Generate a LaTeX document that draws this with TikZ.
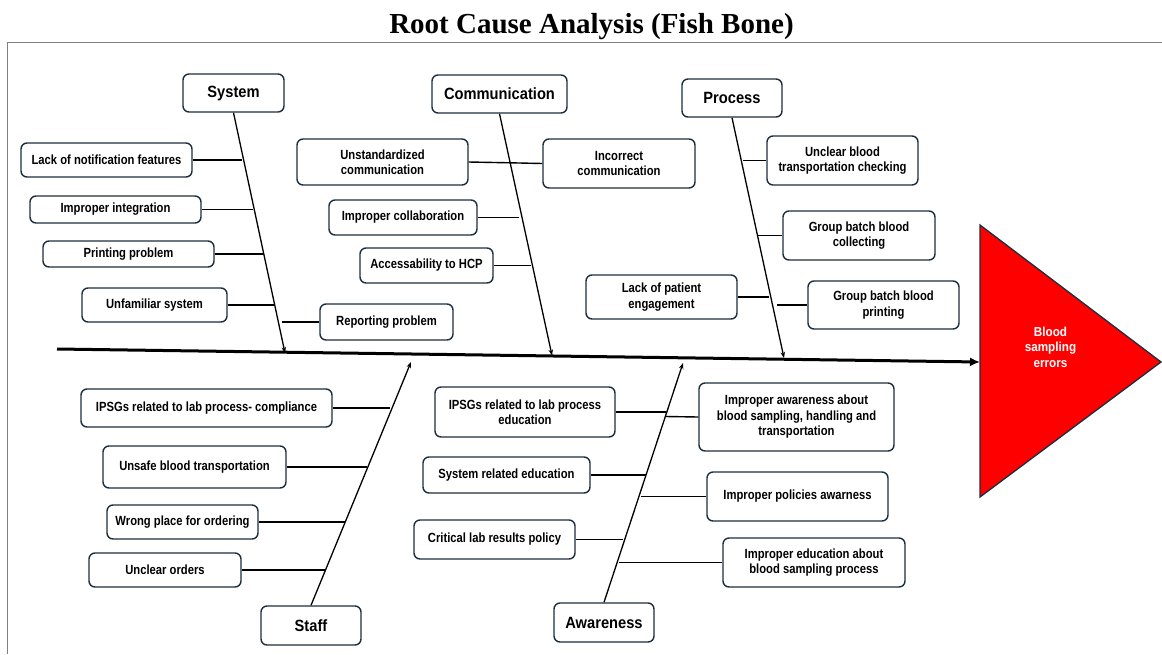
\documentclass[tikz,border=0pt]{standalone}
\usepackage{fontspec}
\setmainfont{Liberation Sans}[FakeStretch=0.9]
\newfontfamily\subfont{Liberation Sans}[FakeStretch=0.845]
\newfontfamily\titlefont{Liberation Serif}
\usetikzlibrary{arrows.meta,calc}
\definecolor{boxline}{HTML}{1C2E3D}
\definecolor{errred}{HTML}{FF0000}
\definecolor{framegray}{HTML}{7F7F7F}
\begin{document}
\begin{tikzpicture}[x=1pt,y=-1pt,
  wh/.style 2 args={minimum width=#1pt, minimum height=#2pt},
  cat/.style={draw=boxline, line width=1.4pt, rounded corners=6pt, fill=white, inner sep=0pt, align=center, font=\bfseries\fontsize{16.3}{19}\selectfont},
  sub/.style={draw=boxline, line width=1.4pt, rounded corners=6pt, fill=white, inner sep=0pt, align=center, font=\subfont\bfseries\fontsize{13.3}{15.5}\selectfont},
  rib/.style={line width=1.4pt},
  bone/.style={line width=1.3pt, -{Stealth[length=6pt,width=4.5pt]}},
  spine/.style={line width=3pt, -{Latex[length=10pt,width=9pt]}},
]
\useasboundingbox (0,0) rectangle (1162,654);

% frame and title
\draw[framegray, line width=1pt] (7.3,654) -- (7.3,42.3) -- (1162,42.3);
\node[anchor=base, font=\titlefont\bfseries\fontsize{29}{34}\selectfont] (title) at (591.5,33.5) {Root Cause Analysis (Fish Bone)};

% spine and head
\coordinate (tail) at (57,349);
\coordinate (tri) at (980,362);
\coordinate (triT) at (980,225);
\coordinate (triB) at (980,497);
\coordinate (triP) at (1161,362);
\draw[draw=boxline, line width=1.3pt, fill=errred] (triT) -- (triP) -- (triB) -- cycle;
\node[text=white, align=center, font=\bfseries\fontsize{13}{15.5}\selectfont] (err) at (1050.5,347) {Blood\\sampling\\errors};
\draw[spine] (tail) -- (tri);

% category boxes
\node[cat, wh={101}{38}] (sys) at (233.5,93) {System};
\node[cat, wh={135}{38}] (com) at (499.5,94) {Communication};
\node[cat, wh={100}{38}] (pro) at (732,98) {Process};
\node[cat, wh={100}{39}] (sta) at (311,625.5) {Staff};
\node[cat, wh={100}{39}] (awa) at (604,622.5) {Awareness};

% bones
\coordinate (sysE) at (285,353);
\coordinate (comE) at (552,355.5);
\coordinate (proE) at (784,358);
\coordinate (staE) at (411,362);
\coordinate (awaE) at (683,363);
\draw[bone] (sys.south) -- (sysE);
\draw[bone] (com.south) -- (comE);
\draw[bone] (pro.south) -- (proE);
\draw[bone] (sta.north) -- (staE);
\draw[bone] (awa.north) -- (awaE);

% System causes
\node[sub, wh={171}{34}] (s1) at (106.5,160) {Lack of notification features};
\node[sub, wh={171}{27}] (s2) at (115.5,209.5) {Improper integration};
\node[sub, wh={171}{26}] (s3) at (128.5,254) {Printing problem};
\node[sub, wh={145}{34}] (s4) at (154.5,305) {Unfamiliar system};
\node[sub, wh={133}{36}] (s5) at (386.5,322) {Reporting problem};
\coordinate (sb1) at (242,160);
\coordinate (sb2) at (252.5,209.5);
\coordinate (sb3) at (263,254);
\coordinate (sb4) at (273.5,305);
\coordinate (sb5) at (281.5,322);
\draw[rib] (s1.east) -- (sb1);
\draw[rib] (s2.east) -- (sb2);
\draw[rib] (s3.east) -- (sb3);
\draw[rib] (s4.east) -- (sb4);
\draw[rib] (sb5) -- (s5.west);

% Communication causes
\node[sub, wh={171}{46}] (c1) at (382.5,162) {Unstandardized\\communication};
\node[sub, wh={152}{49}] (c2) at (619,163.5) {Incorrect\\communication};
\node[sub, wh={148}{35}] (c3) at (403,217.5) {Improper collaboration};
\node[sub, wh={133}{35}] (c4) at (426.5,265.5) {Accessability to HCP};
\coordinate (cb1) at (510,162.8);
\coordinate (cb3) at (519,217.5);
\coordinate (cb4) at (531,265.5);
\draw[rib] (c1.east) -- (cb1);
\draw[rib] (cb1) -- (c2.west);
\draw[rib] (c3.east) -- (cb3);
\draw[rib] (c4.east) -- (cb4);

% Process causes
\node[sub, wh={151}{49}] (p1) at (842.5,160.5) {Unclear blood\\transportation checking};
\node[sub, wh={152}{49}] (p2) at (859,235.5) {Group batch blood\\collecting};
\node[sub, wh={151}{44}] (p3) at (661.5,297) {Lack of patient\\engagement};
\node[sub, wh={151}{48}] (p4) at (883.5,305) {Group batch blood\\printing};
\coordinate (pb1) at (743,160.5);
\coordinate (pb2) at (758,235.5);
\coordinate (pb3) at (769,297);
\coordinate (pb4) at (777,305);
\draw[rib] (pb1) -- (p1.west);
\draw[rib] (pb2) -- (p2.west);
\draw[rib] (p3.east) -- (pb3);
\draw[rib] (pb4) -- (p4.west);

% Staff causes
\node[sub, wh={251}{38}] (t1) at (206.5,408) {IPSGs related to lab process- compliance};
\node[sub, wh={183}{42}] (t2) at (194.5,467) {Unsafe blood transportation};
\node[sub, wh={151}{34}] (t3) at (182.5,522) {Wrong place for ordering};
\node[sub, wh={152}{34}] (t4) at (165,570) {Unclear orders};
\coordinate (tb1) at (389.5,408);
\coordinate (tb2) at (367,467);
\coordinate (tb3) at (344.5,522);
\coordinate (tb4) at (326,570);
\draw[rib] (t1.east) -- (tb1);
\draw[rib] (t2.east) -- (tb2);
\draw[rib] (t3.east) -- (tb3);
\draw[rib] (t4.east) -- (tb4);

% Awareness causes
\node[sub, wh={180}{50}] (a1) at (525,412) {IPSGs related to lab process\\education};
\node[sub, wh={195}{68}] (a2) at (796.5,417) {Improper awareness about\\blood sampling, handling and\\transportation};
\node[sub, wh={167}{36}] (a3) at (506.5,475) {System related education};
\node[sub, wh={181}{49}] (a4) at (797.5,496.5) {Improper policies awarness};
\node[sub, wh={161}{39}] (a5) at (494.5,539.5) {Critical lab results policy};
\node[sub, wh={182}{49}] (a6) at (814,562.5) {Improper education about\\blood sampling process};
\coordinate (ab1) at (666,412);
\coordinate (ab2) at (666,416.5);
\coordinate (ab3) at (646,475);
\coordinate (ab4) at (641,496.5);
\coordinate (ab5) at (623,539.5);
\coordinate (ab6) at (618.5,562.5);
\draw[rib] (a1.east) -- (ab1);
\draw[rib] (ab2) -- (a2.west);
\draw[rib] (a3.east) -- (ab3);
\draw[rib] (ab4) -- (a4.west);
\draw[rib] (a5.east) -- (ab5);
\draw[rib] (ab6) -- (a6.west);
\end{tikzpicture}
\end{document}
